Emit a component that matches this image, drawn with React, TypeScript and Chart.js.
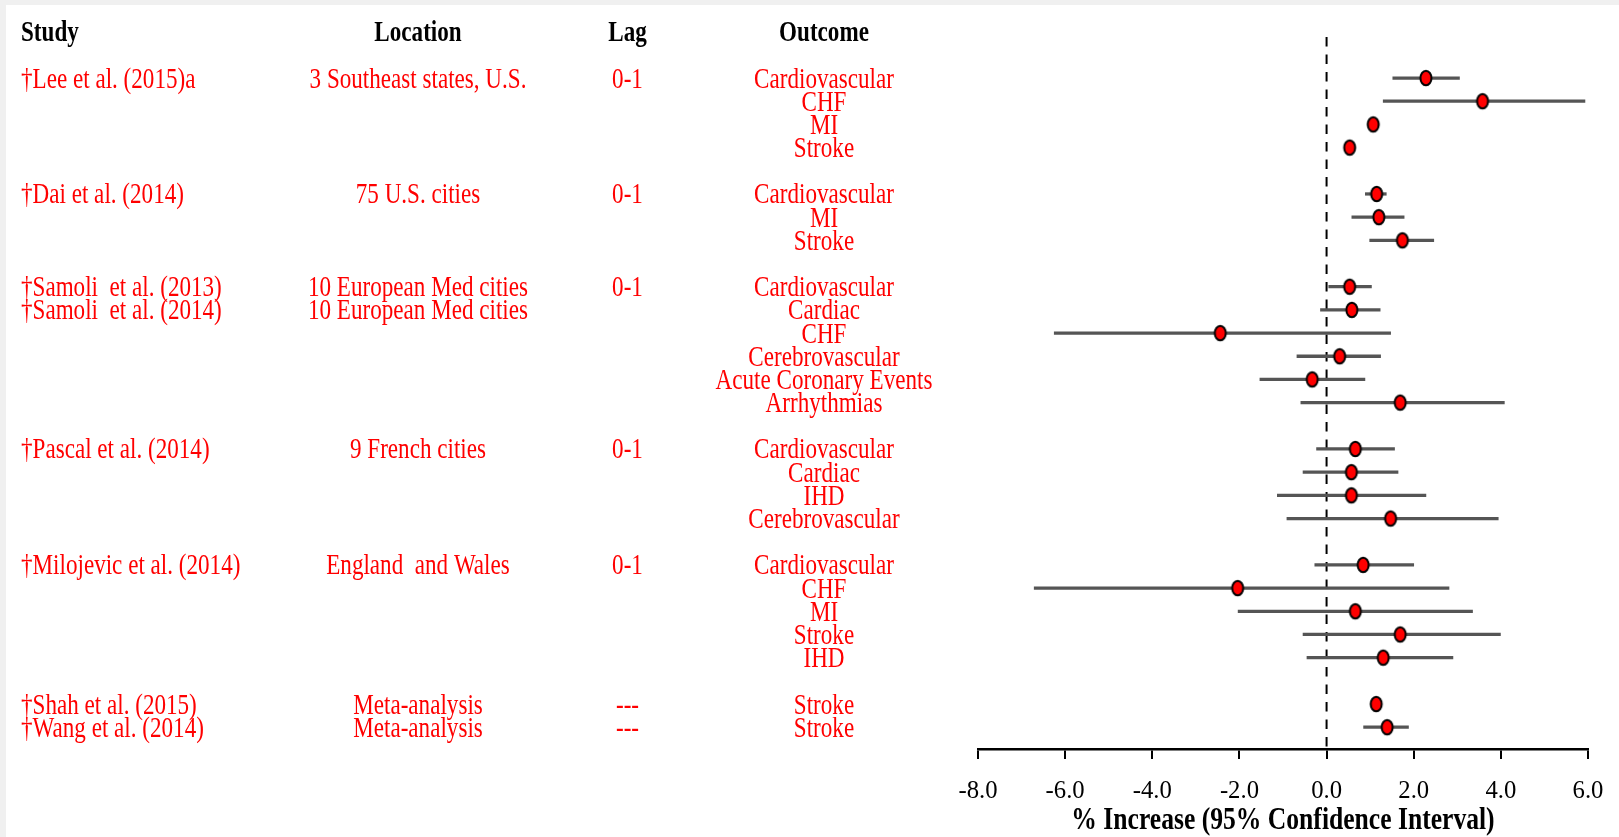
import React, { useEffect, useRef } from "react";
import { Chart, registerables } from "chart.js";

Chart.register(...registerables);

// ---------- data ----------
const headers = ["Study", "Location", "Lag", "Outcome"];
const rowIndex = [0, 1, 2, 3, 5, 6, 7, 9, 10, 11, 12, 13, 14, 16, 17, 18, 19, 21, 22, 23, 24, 25, 27, 28];
const studyLabels = [
  "†Lee et al. (2015)a", "", "", "",
  "†Dai et al. (2014)", "", "",
  "†Samoli  et al. (2013)", "†Samoli  et al. (2014)", "", "", "", "",
  "†Pascal et al. (2014)", "", "", "",
  "†Milojevic et al. (2014)", "", "", "", "",
  "†Shah et al. (2015)", "†Wang et al. (2014)",
];
const locations = [
  "3 Southeast states, U.S.", "", "", "",
  "75 U.S. cities", "", "",
  "10 European Med cities", "10 European Med cities", "", "", "", "",
  "9 French cities", "", "", "",
  "England  and Wales", "", "", "", "",
  "Meta-analysis", "Meta-analysis",
];
const lags = [
  "0-1", "", "", "",
  "0-1", "", "",
  "0-1", "", "", "", "", "",
  "0-1", "", "", "",
  "0-1", "", "", "", "",
  "---", "---",
];
const outcomes = [
  "Cardiovascular", "CHF", "MI", "Stroke",
  "Cardiovascular", "MI", "Stroke",
  "Cardiovascular", "Cardiac", "CHF", "Cerebrovascular", "Acute Coronary Events", "Arrhythmias",
  "Cardiovascular", "Cardiac", "IHD", "Cerebrovascular",
  "Cardiovascular", "CHF", "MI", "Stroke", "IHD",
  "Stroke", "Stroke",
];
const estimates = [2.28, 3.58, 1.07, 0.53, 1.15, 1.2, 1.74, 0.53, 0.58, -2.44, 0.3, -0.33, 1.69, 0.66, 0.57, 0.57, 1.47, 0.84, -2.04, 0.66, 1.69, 1.3, 1.14, 1.39];
const lowerCI = [1.52, 1.3, 0.95, 0.42, 0.89, 0.58, 0.99, 0.05, -0.14, -6.25, -0.68, -1.53, -0.59, -0.23, -0.54, -1.13, -0.91, -0.27, -6.71, -2.03, -0.54, -0.45, 1.02, 0.85];
const upperCI = [3.05, 5.93, 1.2, 0.65, 1.37, 1.78, 2.46, 1.03, 1.23, 1.47, 1.24, 0.88, 4.08, 1.56, 1.64, 2.28, 3.94, 2.0, 2.81, 3.35, 3.99, 2.9, 1.26, 1.88];
const xTicksMin = -8;
const xTicksMax = 6;
const xTickStep = 2;
const xTitle = "% Increase (95% Confidence Interval)";

// ---------- layout / style ----------
const W = 1613;
const H = 832;
const Y_MIN = -1.77;
const Y_MAX = 28.94;
const HEADER_ROW = -2;
const SERIF = "'Liberation Serif', 'Times New Roman', serif";
const SX = 0.77;

function drawText(
  ctx: CanvasRenderingContext2D,
  text: string,
  x: number,
  y: number,
  align: "left" | "center",
  font: string,
  color: string,
  sx: number
) {
  if (!text) return;
  ctx.save();
  ctx.font = font;
  ctx.fillStyle = color;
  ctx.textAlign = "left";
  ctx.textBaseline = "alphabetic";
  const w = ctx.measureText(text).width * sx;
  const left = align === "left" ? x : x - w / 2;
  ctx.translate(left, y);
  ctx.scale(sx, 1);
  ctx.fillText(text, 0, 0);
  ctx.restore();
}

const tablePlugin = {
  id: "forestTable",
  afterDraw(chart: any) {
    const ctx: CanvasRenderingContext2D = chart.ctx;
    const ys = chart.scales.y;
    const xs = chart.scales.x;
    const cols = [
      { x: 15, align: "left" as const, values: studyLabels },
      { x: 412, align: "center" as const, values: locations },
      { x: 621.5, align: "center" as const, values: lags },
      { x: 818, align: "center" as const, values: outcomes },
    ];
    const regFont = `30px ${SERIF}`;
    const boldFont = `bold 30px ${SERIF}`;
    const hy = ys.getPixelForValue(HEADER_ROW) + 9.8;
    cols.forEach((c, ci) => {
      drawText(ctx, headers[ci], c.x, hy, c.align, boldFont, "#000", SX);
      c.values.forEach((v, i) => {
        const y = ys.getPixelForValue(rowIndex[i]) + 9.5;
        drawText(ctx, v, c.x, y, c.align, regFont, "#ff0000", SX);
      });
    });
    // x tick labels and title
    const axisY = chart.chartArea.bottom;
    xs.ticks.forEach((t: any) => {
      const px = xs.getPixelForValue(t.value);
      drawText(ctx, String(t.label), px, axisY + 48.5, "center", `26px ${SERIF}`, "#000", 0.95);
    });
    const cx = (chart.chartArea.left + chart.chartArea.right) / 2;
    drawText(ctx, xTitle, cx, axisY + 80, "center", `bold 32px ${SERIF}`, "#000", 0.8);
  },
};

export default function App() {
  const ref = useRef<HTMLCanvasElement | null>(null);

  useEffect(() => {
    if (!ref.current) return;
    const dot = document.createElement("canvas");
    dot.width = 16;
    dot.height = 20;
    const dctx = dot.getContext("2d")!;
    dctx.beginPath();
    dctx.ellipse(8, 10, 5.5, 7.35, 0, 0, Math.PI * 2);
    dctx.fillStyle = "#ff0000";
    dctx.fill();
    dctx.lineWidth = 2;
    dctx.strokeStyle = "#000";
    dctx.stroke();

    const chart = new Chart(ref.current, {
      type: "scatter",
      data: {
        datasets: [
          {
            type: "scatter",
            label: "Estimate",
            data: estimates.map((e, i) => ({ x: e, y: rowIndex[i] })),
            pointStyle: dot as any,
            pointRadius: 6,
            pointHoverRadius: 6,
          },
          {
            type: "bar",
            label: "95% CI",
            indexAxis: "y",
            data: lowerCI.map((lo, i) => ({ x: [lo, upperCI[i]], y: rowIndex[i] })) as any,
            backgroundColor: "#555555",
            borderWidth: 0,
            barThickness: 2.6,
          } as any,
          {
            type: "line",
            label: "null",
            data: [
              { x: 0, y: Y_MIN },
              { x: 0, y: Y_MAX },
            ],
            borderColor: "#000",
            borderWidth: 2,
            borderDash: [9.5, 8],
            pointRadius: 0,
            fill: false,
          } as any,
        ],
      },
      options: {
        animation: false,
        responsive: false,
        layout: { padding: { left: 972, right: 31, top: 32, bottom: 0 } },
        plugins: { legend: { display: false }, tooltip: { enabled: false } },
        events: [],
        scales: {
          x: {
            type: "linear",
            min: xTicksMin,
            max: xTicksMax,
            offset: false,
            ticks: {
              stepSize: xTickStep,
              display: false,
              callback: (v: any) => Number(v).toFixed(1),
            },
            grid: {
              offset: false,
              drawOnChartArea: false,
              drawTicks: true,
              tickLength: 10,
              color: "#000",
              lineWidth: 2,
            },
            border: { display: true, color: "#000", width: 2.5 },
            afterFit: (s: any) => {
              s.height = 88;
            },
          },
          y: {
            type: "linear",
            min: Y_MIN,
            max: Y_MAX,
            reverse: true,
            offset: false,
            grid: { offset: false },
            display: false,
          },
        },
      } as any,
      plugins: [tablePlugin],
    });
    return () => chart.destroy();
  }, []);

  return (
    <div style={{ position: "fixed", left: 0, top: 0, width: "100vw", height: "100vh", background: "#f0f0f0" }}>
      <div style={{ position: "absolute", left: 6, top: 5, width: W, height: H, background: "#fff" }}>
        <canvas ref={ref} width={W} height={H} style={{ display: "block" }} />
      </div>
    </div>
  );
}
